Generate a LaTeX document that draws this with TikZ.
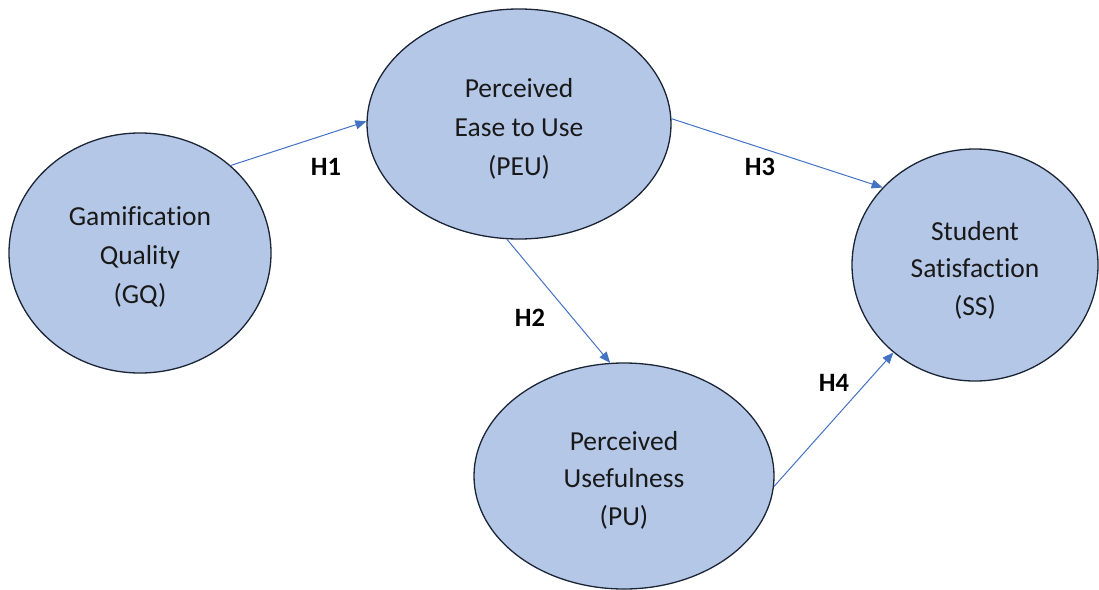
\documentclass[tikz,border=0pt]{standalone}
\usepackage{fontspec}
\setmainfont[Ligatures=NoCommon]{Carlito}
\usetikzlibrary{shapes.geometric,arrows.meta}
\definecolor{efill}{HTML}{B4C7E7}
\definecolor{edraw}{HTML}{1C2536}
\definecolor{arr}{HTML}{4472C4}
\newcommand{\lowtext}[2]{\raisebox{-#1}[\height][\depth]{\begin{tabular}{@{}c@{}}#2\end{tabular}}}
\tikzset{
  construct/.style={ellipse, draw=edraw, line width=1.3pt, fill=efill, inner sep=0pt,
    align=center, font=\fontsize{27.5}{38.5}\selectfont, text=black!90},
  link/.style={draw=arr, line width=1pt, -{Triangle[length=11pt,width=9pt]}},
  hlab/.style={font=\bfseries\fontsize{26.5}{30}\selectfont, text=black}
}
\begin{document}
\begin{tikzpicture}[x=1pt,y=-1pt]
\useasboundingbox[fill=white] (0,0) rectangle (1099,589);
\node[construct, minimum width=262pt, minimum height=240pt] (gq) at (140,253) {\lowtext{4pt}{Gamification\\[0.5pt]Quality\\[0.5pt](GQ)}};
\node[construct, minimum width=304pt, minimum height=230pt] (peu) at (519,124) {\lowtext{5pt}{Perceived\\[0.5pt]Ease to Use\\[0.5pt](PEU)}};
\node[construct, minimum width=246pt, minimum height=232pt] (ss) at (975,265) {\lowtext{5pt}{Student\\[-1pt]Satisfaction\\[-1pt](SS)}};
\node[construct, minimum width=300pt, minimum height=226pt] (pu) at (624,476) {\lowtext{4pt}{Perceived\\[-1pt]Usefulness\\[-1pt](PU)}};
\draw[link] (gq.44) -- (peu.179);
\draw[link] (peu.-96) -- (pu.97);
\draw[link] (peu.2) -- (ss.140);
\draw[link] (pu.-4) -- (ss.-133);
\node[hlab] (h1) at (326,167) {H1};
\node[hlab] (h2) at (530,318) {H2};
\node[hlab] (h3) at (760,167) {H3};
\node[hlab] (h4) at (834,383) {H4};
\end{tikzpicture}
\end{document}
